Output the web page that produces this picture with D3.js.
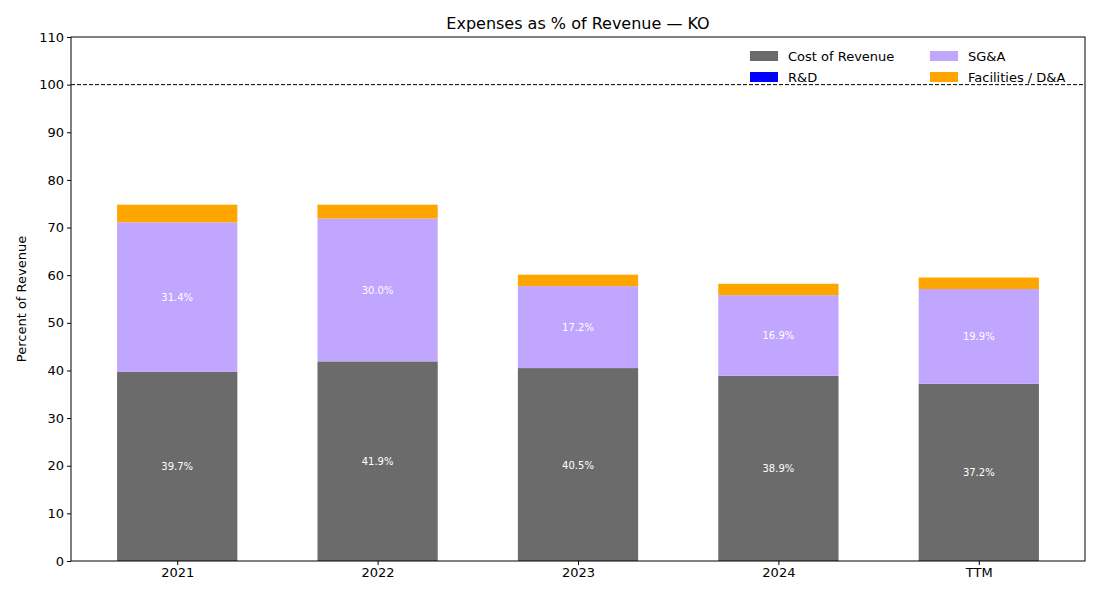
<!DOCTYPE html>
<html><head><meta charset="utf-8">
<script src="https://cdn.jsdelivr.net/npm/d3@7"></script>
<style>body{margin:0;background:#fff;font-family:"DejaVu Sans",sans-serif}</style>
</head><body>
<script>
var categories = ["2021", "2022", "2023", "2024", "TTM"];
var costRevenue = [39.7, 41.9, 40.5, 38.9, 37.2];
var rnd = [0, 0, 0, 0, 0];
var sga = [31.4, 30.0, 17.2, 16.9, 19.9];
var facilities = [3.7, 2.9, 2.4, 2.4, 2.4];
var yTicks = [0, 10, 20, 30, 40, 50, 60, 70, 80, 90, 100, 110];

var series = [
  {name: "Cost of Revenue", values: costRevenue, color: "#6b6b6b", label: true},
  {name: "R&D", values: rnd, color: "#0000ff", label: false},
  {name: "SG&A", values: sga, color: "#c0a6ff", label: true},
  {name: "Facilities / D&A", values: facilities, color: "#ffa500", label: false}
];

var width = 1100, height = 600;
var plotL = 71, plotR = 1085, plotT = 37, plotB = 561;

var svg = d3.select("body").append("svg").attr("width", width).attr("height", height);

var x = d3.scaleLinear().domain([-0.53, 4.53]).range([plotL, plotR]);
var y = d3.scaleLinear().domain([0, 110]).range([plotB, plotT]);
var barW = x(0.6) - x(0);

// stack bars
categories.forEach(function(c, i) {
  var base = 0;
  series.forEach(function(s) {
    var v = s.values[i];
    if (v > 0) {
      svg.append("rect")
        .attr("x", x(i) - barW / 2).attr("width", barW)
        .attr("y", y(base + v)).attr("height", y(base) - y(base + v))
        .attr("fill", s.color);
      if (s.label) {
        svg.append("text")
          .attr("x", x(i)).attr("y", y(base + v / 2) + 4)
          .attr("text-anchor", "middle").attr("fill", "#fff")
          .style("font-size", "10px").text(v.toFixed(1) + "%");
      }
    }
    base += v;
  });
});

// 100% reference line
svg.append("line").attr("x1", plotL).attr("x2", plotR)
  .attr("y1", y(100)).attr("y2", y(100))
  .attr("stroke", "#000").attr("stroke-dasharray", "4,2").attr("stroke-width", 1);

// axes
svg.append("g").attr("transform", "translate(" + plotL + ",0)")
  .call(d3.axisLeft(y).tickValues(yTicks).tickSize(4).tickPadding(3))
  .call(function(g) { g.select(".domain").remove(); })
  .selectAll("text").style("font-size", "13px").style("font-family", "DejaVu Sans");
svg.append("g").attr("transform", "translate(0," + plotB + ")")
  .call(d3.axisBottom(x).tickValues(d3.range(categories.length))
    .tickFormat(function(d) { return categories[d]; }).tickSize(4).tickPadding(3))
  .call(function(g) { g.select(".domain").remove(); })
  .selectAll("text").style("font-size", "13px").style("font-family", "DejaVu Sans");

svg.append("rect").attr("x", plotL).attr("y", plotT)
  .attr("width", plotR - plotL).attr("height", plotB - plotT)
  .attr("fill", "none").attr("stroke", "#000");

svg.append("text").attr("x", (plotL + plotR) / 2).attr("y", 29)
  .attr("text-anchor", "middle").style("font-size", "16px")
  .text("Expenses as % of Revenue — KO");

svg.append("text").attr("transform", "translate(26," + ((plotT + plotB) / 2) + ") rotate(-90)")
  .attr("text-anchor", "middle").style("font-size", "13px").text("Percent of Revenue");

// legend: two columns, column-major
var legendPos = [[750, 56], [750, 77], [930, 56], [930, 77]];
series.forEach(function(s, i) {
  var p = legendPos[i];
  svg.append("rect").attr("x", p[0]).attr("y", p[1] - 5).attr("width", 28).attr("height", 10).attr("fill", s.color);
  svg.append("text").attr("x", p[0] + 38).attr("y", p[1] + 5).style("font-size", "13px").text(s.name);
});
</script>
</body></html>
